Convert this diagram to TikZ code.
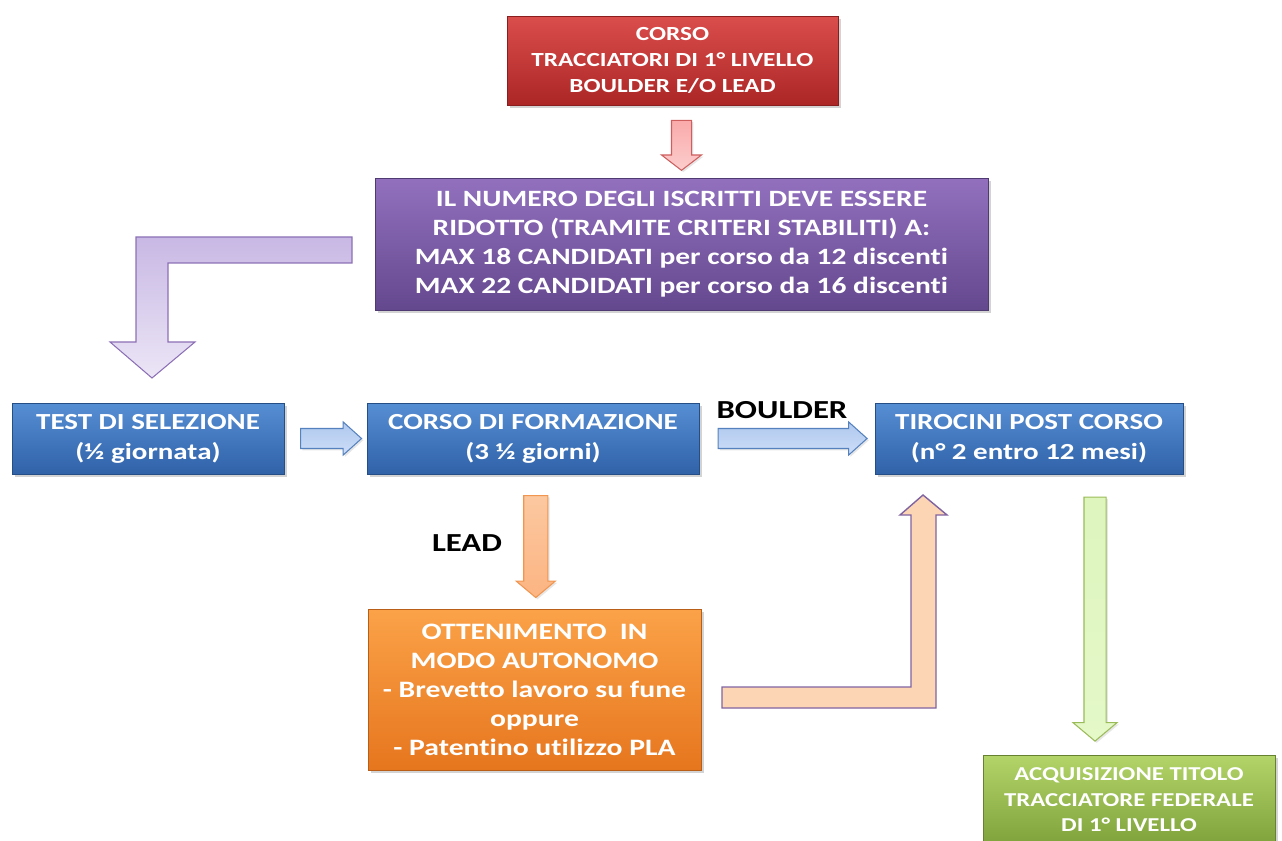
\documentclass[tikz,border=0pt]{standalone}
\usepackage{fontspec}
\setmainfont{Carlito}[FakeStretch=1.26, Ligatures=NoCommon]
\usepackage{tikz}
\usetikzlibrary{calc,shapes.arrows,shadows}

\definecolor{redtop}{RGB}{218,78,76}
\definecolor{redbot}{RGB}{172,38,38}
\definecolor{purtop}{RGB}{146,112,190}
\definecolor{purbot}{RGB}{100,72,142}
\definecolor{blutop}{RGB}{86,142,212}
\definecolor{blubot}{RGB}{48,98,168}
\definecolor{ortop}{RGB}{251,162,72}
\definecolor{orbot}{RGB}{230,118,30}
\definecolor{grtop}{RGB}{178,212,104}
\definecolor{grbot}{RGB}{128,162,60}
% arrow colours
\definecolor{pinkline}{RGB}{205,95,95}
\definecolor{pinktop}{RGB}{250,170,170}
\definecolor{pinkbot}{RGB}{252,205,205}
\definecolor{bluline}{RGB}{85,130,190}
\definecolor{lbtop}{RGB}{175,200,238}
\definecolor{lbbot}{RGB}{205,222,248}
\definecolor{orline}{RGB}{240,150,80}
\definecolor{lotop}{RGB}{252,200,160}
\definecolor{lobot}{RGB}{252,180,130}
\definecolor{grline}{RGB}{155,187,89}
\definecolor{lgtop}{RGB}{222,245,190}
\definecolor{lgbot}{RGB}{228,248,200}
\definecolor{purline}{RGB}{140,112,182}
\definecolor{lptop}{RGB}{200,184,228}
\definecolor{lpbot}{RGB}{236,230,246}
\definecolor{peachline}{RGB}{128,100,162}
\definecolor{peach}{RGB}{252,213,181}

\tikzset{
  box/.style={rectangle, draw=#1bot!80!black, line width=0.4pt, top color=#1top, bottom color=#1bot,
    text=white, align=center, inner sep=0pt,
    drop shadow={opacity=0.35, shadow xshift=1.5pt, shadow yshift=-1.5pt}},
  blockarrow/.style={single arrow, draw=#1line, line width=0.6pt, text width=0pt,
    drop shadow={opacity=0.2, shadow xshift=1pt, shadow yshift=-1pt}},
  lbl/.style={font=\fontsize{14.8}{16}\selectfont\bfseries, text=black}
}

\begin{document}
\begin{tikzpicture}[x=0.02cm, y=-0.02cm]
\useasboundingbox (0,0) rectangle (1282,841);

% boxes
\node [box=red, minimum width=6.62cm, minimum height=1.78cm, font=\fontsize{11.4}{14.7}\selectfont\bfseries] (corso) at (672.5,60.5) {CORSO\\TRACCIATORI DI 1° LIVELLO\\BOULDER E/O LEAD};

\node [box=pur, minimum width=12.26cm, minimum height=2.64cm, font=\fontsize{13.3}{16.5}\selectfont\bfseries] (iscritti) at (681.5,244) {IL NUMERO DEGLI ISCRITTI DEVE ESSERE\\RIDOTTO (TRAMITE CRITERI STABILITI) A:\\MAX 18 CANDIDATI per corso da 12 discenti\\MAX 22 CANDIDATI per corso da 16 discenti};

\node [box=blu, minimum width=5.44cm, minimum height=1.42cm, font=\fontsize{13.1}{17}\selectfont\bfseries] (test) at (148,438.5) {TEST DI SELEZIONE\\(½ giornata)};

\node [box=blu, minimum width=6.64cm, minimum height=1.42cm, font=\fontsize{13.1}{17}\selectfont\bfseries] (formazione) at (533,438.5) {CORSO DI FORMAZIONE\\(3 ½ giorni)};

\node [box=blu, minimum width=6.16cm, minimum height=1.42cm, font=\fontsize{13.1}{17}\selectfont\bfseries] (tirocini) at (1029,438.5) {TIROCINI POST CORSO\\(n° 2 entro 12 mesi)};

\node [box=or, minimum width=6.66cm, minimum height=3.22cm, font=\fontsize{13.4}{16.5}\selectfont\bfseries] (ottenimento) at (534.5,689.5) {OTTENIMENTO\ \ IN\\MODO AUTONOMO\\- Brevetto lavoro su fune\\oppure\\- Patentino utilizzo PLA};

\node [box=gr, minimum width=5.84cm, minimum height=1.8cm, font=\fontsize{11.2}{14.5}\selectfont\bfseries] (titolo) at (1129,800) {ACQUISIZIONE TITOLO\\TRACCIATORE FEDERALE\\DI 1° LIVELLO};

% straight arrows
\node [blockarrow=pink, top color=pinktop, bottom color=pinkbot,
  shape border rotate=270, minimum height=1.0cm, minimum width=0.78cm, inner sep=0.19cm,
  single arrow head extend=0.2cm, single arrow tip angle=105] (a1) at ($(corso.south -| iscritti.north)!0.5!(iscritti.north)$) {};

\node [blockarrow=blu, top color=lbtop, bottom color=lbbot,
  minimum height=1.22cm, minimum width=0.64cm, inner sep=0.19cm,
  single arrow head extend=0.13cm, single arrow tip angle=84] (a2) at ($(test.east)!0.5!(formazione.west)$) {};

\node [blockarrow=blu, top color=lbtop, bottom color=lbbot,
  minimum height=2.98cm, minimum width=0.64cm, inner sep=0.19cm,
  single arrow head extend=0.13cm, single arrow tip angle=84] (a3) at ($(formazione.east)!0.5!(tirocini.west)$) {};

\node [blockarrow=or, top color=lotop, bottom color=lobot,
  shape border rotate=270, minimum height=2.04cm, minimum width=0.76cm, inner sep=0.23cm,
  single arrow head extend=0.15cm, single arrow tip angle=100] (a4) at ($(formazione.south)!0.5!(ottenimento.north)+(2,0)$) {};

\node [blockarrow=gr, top color=lgtop, bottom color=lgbot,
  shape border rotate=270, minimum height=4.88cm, minimum width=0.86cm, inner sep=0.21cm,
  single arrow head extend=0.22cm, single arrow tip angle=100] (a5) at ($(tirocini.south)!0.5!(titolo.north)+(16,0)$) {};

% bent arrows
\draw [draw=purline, line width=0.6pt, top color=lptop, bottom color=lpbot]
  (352,237) -- (136,237) -- (136,342) -- (110,342) -- (152,378) -- (195,342) -- (168,342) -- (168,263) -- (352,263) -- cycle;

\draw [draw=peachline, line width=0.8pt, fill=peach]
  (722,687) -- (911,687) -- (911,515) -- (900,515) -- (923,495) -- (947,515) -- (936,515) -- (936,708) -- (722,708) -- cycle;

% labels
\node [lbl] (boulder) at (782,410) {BOULDER};
\node [lbl] (lead) at (467,543) {LEAD};
\end{tikzpicture}
\end{document}
